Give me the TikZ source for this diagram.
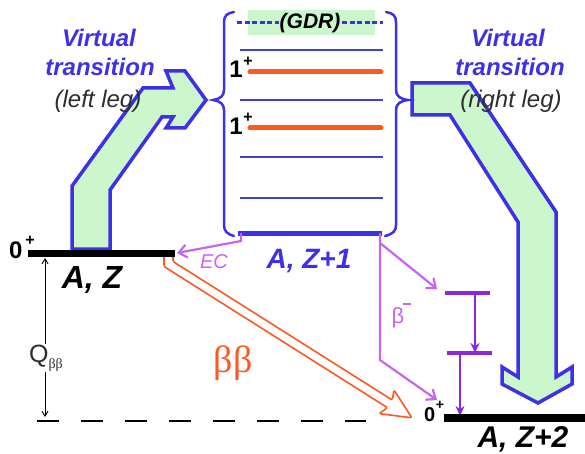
\documentclass[tikz,border=0pt]{standalone}
\usepackage{fontspec}
\setmainfont{Liberation Sans}
\newfontfamily\serifgr{Liberation Serif}
\usetikzlibrary{arrows.meta}
\definecolor{bl}{RGB}{62,48,232}
\definecolor{blt}{RGB}{70,60,215}
\definecolor{gr}{RGB}{204,246,204}
\definecolor{orn}{RGB}{250,90,35}
\definecolor{mag}{RGB}{200,100,238}
\definecolor{pur}{RGB}{140,40,220}
\definecolor{dg}{RGB}{45,45,45}
\tikzset{
  vt/.style={text=bl, font=\fontsize{24}{24}\selectfont\bfseries\itshape, anchor=base, inner sep=0pt},
  legtxt/.style={text=dg, font=\fontsize{24}{24}\selectfont\itshape, anchor=base, inner sep=0pt},
  varrow/.style={fill=gr, draw=bl, line width=3.5pt, line join=miter},
  lev/.style={line width=7pt, black},
  thinlev/.style={line width=2pt, blt},
  orlev/.style={line width=5pt, orn, line cap=round},
  purlev/.style={line width=3.5pt, pur},
  magarr/.style={line width=2.2pt, mag, -{Straight Barb[length=8pt,width=13pt,line width=2.2pt]}},
  purarr/.style={line width=2pt, pur, -{Stealth[length=10pt,width=9pt]}},
  brace/.style={line width=2.5pt, bl, line cap=round},
  lab/.style={inner sep=0pt, anchor=base}
}
\begin{document}
\begin{tikzpicture}[x=1pt,y=-1pt]
\useasboundingbox (0,0) rectangle (585,454);

% level coordinates
\coordinate (azL) at (28,253.5);
\coordinate (azR) at (175,253.5);
\coordinate (z1L) at (238,233);
\coordinate (z1R) at (382,233);
\coordinate (z2L) at (444,418);
\coordinate (z2R) at (585,418);
\coordinate (i1L) at (445,293);
\coordinate (i1R) at (490,293);
\coordinate (i2L) at (447,353);
\coordinate (i2R) at (492,353);

% big virtual-transition arrows
\path[varrow] (72,249) -- (72,186) -- (143,88) -- (173,88) -- (166,71) -- (185,71) -- (206,100) -- (185,128) -- (166,128) -- (173,117) -- (162,117) -- (110,190) -- (110,249) -- cycle;
\path[varrow] (412,83) -- (470,83) -- (556,212) -- (556,377) -- (572,367) -- (572,384) -- (538,403) -- (502,384) -- (502,367) -- (518,377) -- (518,222) -- (450,115) -- (412,115) -- cycle;

% texts top
\node[vt] (vL1) at (99,47) {Virtual};
\node[vt] (vL2) at (100,76) {transition};
\node[legtxt] (vL3) at (98,108) {(left leg)};
\node[vt] (vR1) at (508,47) {Virtual};
\node[vt] (vR2) at (510,76) {transition};
\node[legtxt] (vR3) at (511,108) {(right leg)};

% GDR band
\fill[gr] (248,10) rectangle (375,35);
\draw[bl, line width=3pt, dash pattern=on 5pt off 2.5pt] (237,23) -- (279,23);
\draw[bl, line width=3pt, dash pattern=on 5pt off 2.5pt] (342,23) -- (383,23);
\node[inner sep=0pt, font=\fontsize{21}{21}\selectfont\bfseries\itshape, text=black] (gdr) at (310,23) {(GDR)};

% braces
\draw[brace] (234,12) .. controls (227,13) and (224,16) .. (224,22) -- (224,90) .. controls (224,96) and (220,99) .. (213,100) .. controls (220,101) and (224,104) .. (224,110) -- (224,225) .. controls (224,231) and (227,234) .. (234,236);
\draw[brace] (386,12) .. controls (393,13) and (396,16) .. (396,22) -- (396,90) .. controls (396,96) and (400,99) .. (408,100) .. controls (400,101) and (396,104) .. (396,110) -- (396,225) .. controls (396,231) and (393,234) .. (385,236);

% levels in A,Z+1
\draw[thinlev] (240,50) -- (383,50);
\draw[thinlev] (240,100) -- (383,100);
\draw[thinlev] (240,157) -- (383,157);
\draw[thinlev] (240,198) -- (383,198);
\draw[orlev] (250,72) -- (381,72);
\draw[orlev] (250,128) -- (381,128);
\node[lab, anchor=base east, font=\fontsize{24}{24}\selectfont\bfseries] (one1) at (243,78) {1};
\node[inner sep=0pt, font=\fontsize{16}{16}\selectfont\bfseries] (p1) at (248,62) {+};
\node[lab, anchor=base east, font=\fontsize{24}{24}\selectfont\bfseries] (one2) at (243,135) {1};
\node[inner sep=0pt, font=\fontsize{16}{16}\selectfont\bfseries] (p2) at (248,118) {+};
\draw[line width=5pt, bl] (z1L) -- (z1R);
\node[lab, text=bl, font=\fontsize{28}{28}\selectfont\bfseries\itshape] (lz1) at (309,268) {A, Z+1};

% beta beta hollow arrow
\draw[orn, line width=1.6pt, fill=white, rounded corners=1.5pt] (164,256) -- (164,266.5) -- (387.5,407.7) -- (379,413.6) -- (411.9,417.8) -- (394,390) -- (392.3,400.1) -- (173,261.5) -- (173,256) -- cycle;
\node[inner sep=0pt, text=orn, font=\serifgr\fontsize{38}{38}\selectfont] (bb) at (233,363) {ββ};

% left level
\draw[lev] (azL) -- (azR);
\node[lab, anchor=base west, font=\fontsize{24}{24}\selectfont\bfseries] (zl0) at (9,258) {0};
\node[inner sep=0pt, font=\fontsize{16}{16}\selectfont\bfseries] (zlp) at (30,241) {+};
\node[lab, font=\fontsize{32}{32}\selectfont\bfseries\itshape] (laz) at (92,288) {A, Z};

% EC
\coordinate (ecA) at (241,233);
\coordinate (ecB) at (241,241);
\coordinate (ecT) at (177,253);
\draw[magarr] (ecA) -- (ecB) -- (ecT);
\node[lab, text=mag, font=\fontsize{20}{20}\selectfont\itshape] (ec) at (214,268) {EC};

% beta- branches
\coordinate (bA) at (380,233);
\coordinate (bB) at (380,360);
\coordinate (bC) at (437,400);
\coordinate (bD) at (380,243);
\coordinate (bE) at (437,289);
\draw[magarr] (bA) -- (bB) -- (bC);
\draw[magarr] (bD) -- (bE);
\node[inner sep=0pt, text=mag, font=\fontsize{22}{22}\selectfont] (bm) at (398,318) {β};
\draw[mag, line width=2.5pt] (403,304) -- (411,304);

% intermediate levels
\draw[purlev] (i1L) -- (i1R);
\draw[purlev] (i2L) -- (i2R);
\draw[purarr] (475,293) -- (475,353);
\draw[purarr] (460,353) -- (460,416);

% final level
\draw[lev, line width=8pt] (z2L) -- (z2R);
\node[lab, anchor=base west, font=\fontsize{20}{20}\selectfont\bfseries] (zr0) at (424,421) {0};
\node[inner sep=0pt, font=\fontsize{14}{14}\selectfont\bfseries] (zrp) at (440,405) {+};
\node[lab, font=\fontsize{30}{30}\selectfont\bfseries\itshape] (laz2) at (523,447) {A, Z+2};

% Q arrow and dashed line
\coordinate (qT) at (45,258);
\coordinate (qB) at (45,417);
\draw[line width=0.9pt, {Straight Barb[length=5pt,width=6pt]}-{Straight Barb[length=5pt,width=6pt]}] (qT) -- (qB);
\node[fill=white, inner sep=1pt, text=dg, font=\fontsize{25}{25}\selectfont] (q) at (46,358) {Q\raisebox{-0.25em}{\serifgr\fontsize{14}{14}\selectfont ββ}};
\coordinate (dA) at (37,421);
\coordinate (dB) at (366,421);
\draw[line width=1.3pt, dash pattern=on 22pt off 22pt] (dA) -- (dB);
\end{tikzpicture}
\end{document}
